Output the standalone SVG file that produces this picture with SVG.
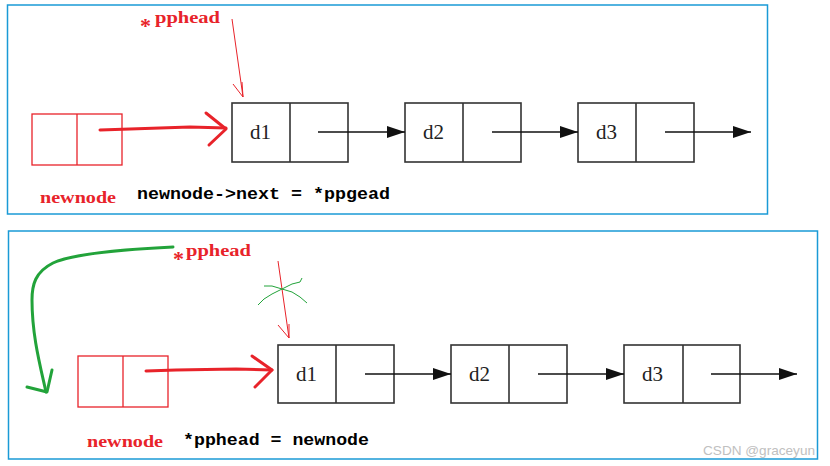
<svg xmlns="http://www.w3.org/2000/svg" width="830" height="466" viewBox="0 0 830 466">
<style>
.panel{fill:#fff;stroke:#1a9ad6;stroke-width:1.5}
.node{fill:#fff;stroke:#333;stroke-width:1.6}
.div{stroke:#333;stroke-width:1.6}
.dl{font-family:"Liberation Serif",serif;font-size:21px;fill:#222}
.rnode{fill:none;stroke:#e8232a;stroke-width:1.3}
.link{stroke:#111;stroke-width:1.4;fill:none}
.red{font-family:"Liberation Serif",serif;font-size:17px;font-weight:bold;fill:#e8232a}
.ast{font-size:22px}
.code{font-family:"Liberation Mono",monospace;font-size:16px;font-weight:bold;fill:#000}
.thick{stroke:#e8232a;stroke-width:3;fill:none;stroke-linecap:round;stroke-linejoin:round}
.thin{stroke:#e8232a;stroke-width:1;fill:none}
.green{stroke:#22a33a;stroke-width:3;fill:none;stroke-linecap:round;stroke-linejoin:round}
.greenthin{stroke:#22a33a;stroke-width:1;fill:none}
</style>
<defs>
<marker id="ah" markerWidth="18" markerHeight="12" refX="18" refY="6" orient="auto" markerUnits="userSpaceOnUse">
<path d="M0,0 L18,6 L0,12 Z" fill="#111"/>
</marker>
</defs>
<rect width="830" height="466" fill="#fff"/>
<rect class="panel" x="7.5" y="5" width="760" height="209"/>
<rect class="panel" x="8.5" y="231" width="809" height="228"/>

<g id="top-newnode">
<rect class="rnode" x="32" y="114" width="90" height="51"/>
<line class="rnode" x1="77" y1="114" x2="77" y2="165"/>
<text class="red" x="40" y="203" textLength="76" lengthAdjust="spacingAndGlyphs">newnode</text>
</g>
<g id="top-d1">
<rect class="node" x="232" y="103" width="116" height="59"/>
<line class="div" x1="290" y1="103" x2="290" y2="162"/>
<text class="dl" x="250" y="139">d1</text>
</g>
<g id="top-d2">
<rect class="node" x="405" y="103" width="116" height="59"/>
<line class="div" x1="463" y1="103" x2="463" y2="162"/>
<text class="dl" x="423" y="139">d2</text>
</g>
<g id="top-d3">
<rect class="node" x="578" y="103" width="116" height="59"/>
<line class="div" x1="636" y1="103" x2="636" y2="162"/>
<text class="dl" x="596" y="139">d3</text>
</g>
<g id="top-labels">
<text class="red" x="140" y="23"><tspan class="ast" dy="10">*</tspan><tspan x="155" dy="-10" textLength="65" lengthAdjust="spacingAndGlyphs">pphead</tspan></text>
<text class="code" x="137" y="199" textLength="253" lengthAdjust="spacingAndGlyphs">newnode-&gt;next = *ppgead</text>
</g>

<g id="bottom-newnode">
<rect class="rnode" x="78" y="356" width="90" height="51"/>
<line class="rnode" x1="123" y1="356" x2="123" y2="407"/>
<text class="red" x="87" y="447" textLength="76" lengthAdjust="spacingAndGlyphs">newnode</text>
</g>
<g id="bottom-d1">
<rect class="node" x="278" y="345" width="116" height="58"/>
<line class="div" x1="336" y1="345" x2="336" y2="403"/>
<text class="dl" x="296" y="381">d1</text>
</g>
<g id="bottom-d2">
<rect class="node" x="451" y="345" width="116" height="58"/>
<line class="div" x1="509" y1="345" x2="509" y2="403"/>
<text class="dl" x="469" y="381">d2</text>
</g>
<g id="bottom-d3">
<rect class="node" x="624" y="345" width="116" height="58"/>
<line class="div" x1="683" y1="345" x2="683" y2="403"/>
<text class="dl" x="642" y="381">d3</text>
</g>
<g id="bottom-labels">
<text class="red" x="173" y="256"><tspan class="ast" dy="10">*</tspan><tspan x="186" dy="-10" textLength="65" lengthAdjust="spacingAndGlyphs">pphead</tspan></text>
<text class="code" x="183" y="445" textLength="186" lengthAdjust="spacingAndGlyphs">*pphead = newnode</text>
<text x="703" y="455" font-family="Liberation Sans,sans-serif" font-size="13" fill="#c0c0c0" textLength="112" lengthAdjust="spacingAndGlyphs">CSDN @graceyun</text>
</g>

<g id="connectors">
<line class="link" x1="318" y1="132" x2="405" y2="132" marker-end="url(#ah)"/>
<line class="link" x1="492" y1="132" x2="578" y2="132" marker-end="url(#ah)"/>
<line class="link" x1="665" y1="132" x2="751" y2="132" marker-end="url(#ah)"/>
<line class="link" x1="365" y1="374" x2="451" y2="374" marker-end="url(#ah)"/>
<line class="link" x1="538" y1="374" x2="624" y2="374" marker-end="url(#ah)"/>
<line class="link" x1="711" y1="374" x2="797" y2="374" marker-end="url(#ah)"/>

<path class="thick" d="M100,130 L130,129 L190,127 L226,128"/>
<path class="thick" d="M206,113 L226,129 L209,145"/>
<path class="thin" d="M232,19 L243,97 M233,84 L243,97 L242,82"/>

<path class="thick" d="M146,371 L176,370 L236,369 L272,370"/>
<path class="thick" d="M252,356 L272,370 L255,387"/>
<path class="thin" d="M278,261 L289,338 M278,325 L289,338 L289,324"/>
<path class="greenthin" d="M264,286 L272,286 L282,289 L292,292 L300,297 L307,303 M258,305 L264,299 L272,294 L282,289 L292,284 L300,282 L302,278"/>

<path class="green" d="M173,247 C110,250 70,255 53,263 C35,272 32,285 32,300 C32,335 40,365 46,392"/>
<path class="green" d="M27,387 L47,392 L52,370"/>
</g>
</svg>
